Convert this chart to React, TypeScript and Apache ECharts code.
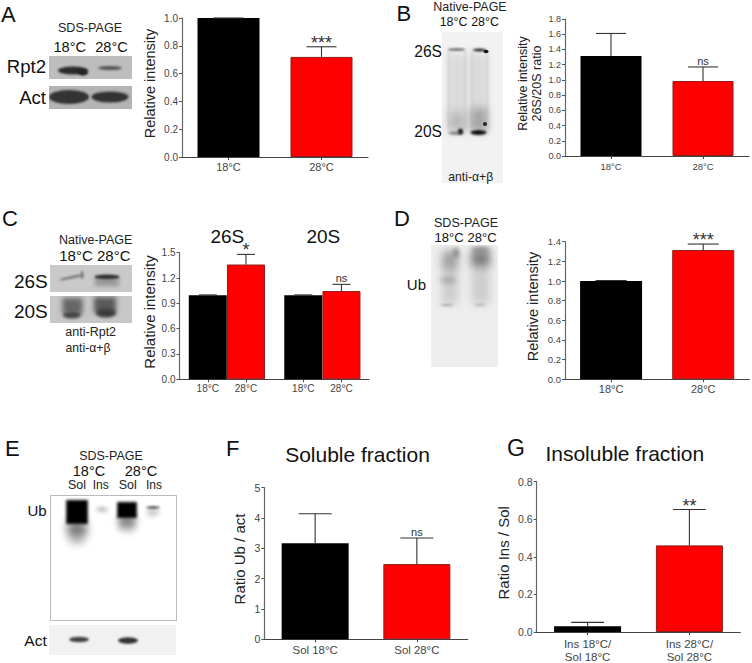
import React, { useEffect, useRef } from "react";
import * as echarts from "echarts";

const FONT = "'Liberation Sans', Arial, sans-serif";

const tempLabels = ["18°C", "28°C"];
const aValues = [1.0, 0.72];
const aHighs = [1.0, 0.793];
const aMarks = ["", "***"];
const bValues = [1.314, 0.985];
const bHighs = [1.61, 1.17];
const bMarks = ["", "ns"];
const cLabels = ["18°C", "28°C", "18°C", "28°C"];
const cValues = [0.995, 1.36, 0.995, 1.046];
const cHighs = [1.0, 1.48, 1.0, 1.125];
const cMarks = ["", "*", "", "ns"];
const dValues = [1.0, 1.315];
const dHighs = [1.005, 1.376];
const dMarks = ["", "***"];
const fLabels = ["Sol 18°C", "Sol 28°C"];
const fValues = [3.165, 2.48];
const fHighs = [4.14, 3.34];
const fMarks = ["", "ns"];
const gLabels = ["Ins 18°C/\nSol 18°C", "Ins 28°C/\nSol 28°C"];
const gValues = [0.031, 0.461];
const gHighs = [0.051, 0.652];
const gMarks = ["", "**"];
const cSlots = [0.74, 1.74, 3.24, 4.24];

type Panel = {
  left: number; right: number; top: number; bottom: number;
  labels: string[]; values: number[]; highs: number[]; marks: string[];
  max: number; step: number; digits: number;
  name: string; nameSize: number; nameGap: number; namePad: number;
  tick: number; xSize: number; xMargin: number; barWidth: number; cap: number; slots?: number[];
};

const panels: Panel[] = [
  { left: 182, right: 368, top: 18, bottom: 157, labels: tempLabels, values: aValues, highs: aHighs, marks: aMarks, max: 1, step: 0.2, digits: 1,
    name: "Relative intensity", nameSize: 14.5, nameGap: 24, namePad: 8, tick: 10, xSize: 11, xMargin: 3.5, barWidth: 62, cap: 15 },
  { left: 565, right: 749, top: 19, bottom: 156, labels: tempLabels, values: bValues, highs: bHighs, marks: bMarks, max: 1.8, step: 0.2, digits: 1,
    name: "Relative intensity\n26S/20S ratio", nameSize: 12.5, nameGap: 18, namePad: 8, tick: 9, xSize: 9.5, xMargin: 4, barWidth: 61, cap: 15 },
  { left: 179.5, right: 369, top: 252.7, bottom: 379.3, labels: cLabels, values: cValues, highs: cHighs, marks: cMarks, max: 1.5, step: 0.3, digits: 1,
    name: "Relative intensity", nameSize: 15, nameGap: 21.5, namePad: 8, tick: 10, xSize: 10, xMargin: 4, barWidth: 38, cap: 9, slots: cSlots },
  { left: 565, right: 749.3, top: 241.7, bottom: 379.3, labels: tempLabels, values: dValues, highs: dHighs, marks: dMarks, max: 1.4, step: 0.2, digits: 1,
    name: "Relative intensity", nameSize: 14.5, nameGap: 24, namePad: 8, tick: 9.5, xSize: 11, xMargin: 3.5, barWidth: 62, cap: 15.5 },
  { left: 264.3, right: 467.7, top: 487.7, bottom: 639.3, labels: fLabels, values: fValues, highs: fHighs, marks: fMarks, max: 5, step: 1, digits: 0,
    name: "Ratio Ub / act", nameSize: 15, nameGap: 16.5, namePad: 9, tick: 10.5, xSize: 11.4, xMargin: 4, barWidth: 67, cap: 16.5 },
  { left: 536.7, right: 740.3, top: 481.7, bottom: 634.3, labels: gLabels, values: gValues, highs: gHighs, marks: gMarks, max: 0.8, step: 0.2, digits: 1,
    name: "Ratio Ins / Sol", nameSize: 15, nameGap: 25, namePad: 8, tick: 10.5, xSize: 11.5, xMargin: 5, barWidth: 67, cap: 16.5 },
];

type Blob = [number, number, number, number, string, number, number?, boolean?];
function blot(x: number, y: number, w: number, h: number, bg: string, blobs: Blob[], border?: string) {
  const c = document.createElement("canvas");
  c.width = w; c.height = h;
  const ctx = c.getContext("2d")!;
  ctx.fillStyle = bg;
  ctx.fillRect(0, 0, w, h);
  blobs.forEach(([cx, cy, rx, ry, col, blur, rot, box]) => {
    ctx.filter = `blur(${blur}px)`;
    ctx.fillStyle = col;
    if (box) {
      ctx.fillRect(cx - x - rx, cy - y - ry, rx * 2, ry * 2);
    } else {
      ctx.beginPath();
      ctx.ellipse(cx - x, cy - y, rx, ry, rot || 0, 0, Math.PI * 2);
      ctx.fill();
    }
  });
  ctx.filter = "none";
  if (border) {
    ctx.strokeStyle = border;
    ctx.strokeRect(0.5, 0.5, w - 1, h - 1);
  }
  return { type: "image", x, y, style: { image: c.toDataURL(), x: 0, y: 0, width: w, height: h }, silent: true };
}

function blots() {
  return [
    blot(49, 56, 83, 23, "#bdbdbd", [[73, 70.5, 15, 4, "#2b2b2b", 1.2], [83, 72.5, 5, 3, "#222", 1], [110, 68, 12, 2, "#555", 1]]),
    blot(49, 86, 83, 23, "#b4b4b4", [[69, 97, 20, 7, "#333", 0.8], [110, 97, 18.5, 5.5, "#333", 0.8]]),
    blot(442, 32, 61, 151, "#f2f2f2", [
      [457, 92, 8, 38, "rgba(150,150,150,.28)", 4, 0, true], [479, 92, 8, 38, "rgba(150,150,150,.28)", 4, 0, true],
      [457, 122, 8, 10, "rgba(110,110,110,.3)", 4, 0, true], [479, 120, 8, 12, "rgba(80,80,80,.4)", 4, 0, true],
      [449, 90, 0.7, 40, "rgba(110,110,110,.3)", 1.5, 0, true], [465, 90, 0.7, 40, "rgba(110,110,110,.3)", 1.5, 0, true], [472, 90, 0.7, 40, "rgba(110,110,110,.3)", 1.5, 0, true], [487, 90, 0.7, 40, "rgba(110,110,110,.3)", 1.5, 0, true],
      [456.5, 49.5, 8.5, 1.1, "#444", 0.8], [479.5, 50, 6.5, 1.4, "#222", 0.8], [486, 51.5, 2.5, 1.8, "#111", 0.7],
      [456, 133, 7.5, 1.8, "#888", 1.2], [460.5, 131.5, 2.5, 3, "#222", 1], [478.5, 132.5, 8, 2.6, "#111", 0.9], [485, 124, 2, 2, "#222", 0.7],
    ]),
    blot(50, 265, 82, 27, "#c9c9c9", [[71, 277.5, 12, 1.4, "#777", 1, -0.2], [82, 275, 1.5, 4, "#777", 1], [107, 277, 12.5, 2.4, "#2a2a2a", 1], [107, 282, 12, 4, "rgba(90,90,90,.45)", 2, 0, true]]),
    blot(50, 296, 82, 27, "#c7c7c7", [[72.5, 306, 10, 8, "#666", 2.5, 0, true], [105, 305, 11, 8, "#5a5a5a", 2.5, 0, true], [72, 315, 9, 3.5, "#444", 1.5], [106, 313, 10, 4.5, "#3c3c3c", 1.5]]),
    blot(431, 245, 67, 122, "#eeeeee", [
      [450, 278, 8, 26, "rgba(130,130,130,.3)", 4, 0, true], [450, 260, 7, 9, "rgba(90,90,90,.4)", 4, 0, true], [456, 253, 3, 5, "#888", 2], [448, 280, 8, 3.5, "rgba(100,100,100,.35)", 2.5], [447, 305, 7, 1.2, "rgba(110,110,110,.45)", 1.2],
      [480.5, 278, 9, 26, "rgba(130,130,130,.3)", 4, 0, true], [480.5, 258, 9, 8, "rgba(70,70,70,.6)", 4, 0, true], [480.5, 250, 9, 2.5, "#888", 2], [480, 305, 6, 1.2, "rgba(120,120,120,.4)", 1.2],
    ]),
    blot(50, 495, 127, 126, "#ffffff", [
      [77, 512, 10.8, 12, "#000", 1.6, 0, true], [77, 529, 9.5, 7, "rgba(0,0,0,.55)", 4, 0, true], [77, 540, 7.5, 5, "rgba(0,0,0,.2)", 3.5, 0, true],
      [102, 509.5, 6, 2.2, "rgba(0,0,0,.3)", 2], [127, 510, 9.8, 8, "#000", 1.6, 0, true], [127, 521, 8.5, 5, "rgba(0,0,0,.5)", 3.5, 0, true], [127, 528, 7.5, 4, "rgba(0,0,0,.2)", 3, 0, true],
      [153, 507.5, 7, 1.5, "rgba(0,0,0,.6)", 1.2], [153, 512.5, 6.5, 4, "rgba(0,0,0,.2)", 2.5],
    ], "#bbbbbb"),
    blot(49, 625, 127, 30, "#f1f1f1", [[79, 639.5, 10, 2.8, "#444", 0.9], [128, 640.5, 10, 3.2, "#333", 0.9]]),
  ];
}

type T = [string, number, number, number, string?, string?];
const texts: T[] = [
  ["A", 1, 14, 22], ["B", 396.5, 13, 22], ["C", 2, 218, 22], ["D", 394, 218, 22], ["E", 5, 448, 22], ["F", 226, 448, 22], ["G", 507, 448, 23],
  ["SDS-PAGE", 90, 27.7, 12.6, "center", "#222"], ["18°C", 69.7, 47, 14.6, "center"], ["28°C", 111.5, 47, 14.6, "center"],
  ["Rpt2", 46, 66.7, 18.6, "right"], ["Act", 46, 97, 18.6, "right"],
  ["Native-PAGE", 470, 6.7, 12.5, "center", "#222"], ["18°C", 453.5, 22, 12.4, "center"], ["28°C", 485, 22, 12.4, "center"],
  ["26S", 442, 51.7, 15.6, "right"], ["20S", 442, 131.7, 15.6, "right"], ["anti-α+β", 470.7, 176.7, 12.2, "center", "#222"],
  ["Native-PAGE", 95.7, 240, 12.5, "center", "#222"], ["18°C", 76, 255.7, 15, "center"], ["28°C", 113.7, 255.7, 15, "center"],
  ["26S", 47.7, 281.7, 19, "right"], ["20S", 47.7, 311, 19, "right"], ["anti-Rpt2", 90.7, 332, 12.5, "center", "#222"], ["anti-α+β", 88, 347.7, 12.2, "center", "#222"],
  ["26S", 227.3, 236, 19, "center"], ["20S", 323.3, 236, 19, "center"],
  ["SDS-PAGE", 466, 223, 12.6, "center", "#222"], ["18°C", 449, 237.3, 13, "center"], ["28°C", 482, 237.3, 13, "center"], ["Ub", 426, 284.3, 15, "right"],
  ["SDS-PAGE", 111, 456, 12.5, "center", "#222"], ["18°C", 89, 470.5, 14.5, "center"], ["28°C", 141, 470.5, 14.5, "center"],
  ["Sol", 77, 484.5, 12.5, "center", "#222"], ["Ins", 100.7, 484.5, 12, "center", "#222"], ["Sol", 127.7, 484.5, 12.5, "center", "#222"], ["Ins", 154, 484.5, 12, "center", "#222"],
  ["Ub", 46.7, 510.7, 15, "right"], ["Act", 46.7, 640, 15.5, "right"],
  ["Soluble fraction", 357.5, 454, 21, "center"], ["Insoluble fraction", 624.8, 453, 21, "center"],
];

function buildOption() {
  const grid: any[] = [], xAxis: any[] = [], yAxis: any[] = [], series: any[] = [];
  panels.forEach((p, i) => {
    grid.push({ left: p.left, top: p.top, width: p.right - p.left, height: p.bottom - p.top, containLabel: false });
    const xLine = { show: true, onZero: false, lineStyle: { color: "#444", width: 1.2 } };
    const slots = p.slots;
    if (slots) {
      xAxis.push({
        gridIndex: i, type: "value", min: 0, max: (p.right - p.left) / 38.2, splitLine: { show: false },
        axisLine: xLine,
        axisTick: { show: true, length: 3, customValues: slots, lineStyle: { color: "#444" } },
        axisLabel: { show: true, customValues: slots, margin: p.xMargin, fontSize: p.xSize, fontFamily: FONT, color: "#444", showMinLabel: true, showMaxLabel: true,
          formatter: (v: number) => p.labels[slots.indexOf(v)] ?? "" },
      });
    } else {
      xAxis.push({
        gridIndex: i, type: "category", data: p.labels,
        axisLine: xLine,
        axisTick: { show: true, alignWithLabel: true, length: 3, lineStyle: { color: "#444" } },
        axisLabel: { interval: 0, margin: p.xMargin, fontSize: p.xSize, fontFamily: FONT, color: "#444", lineHeight: 13 },
      });
    }
    yAxis.push({
      gridIndex: i, type: "value", min: 0, max: p.max, interval: p.step,
      name: p.name, nameLocation: "middle", nameGap: p.nameGap, nameRotate: 90,
      nameTextStyle: { fontSize: p.nameSize, fontFamily: FONT, color: "#222", padding: [0, 0, 0, p.namePad], lineHeight: p.nameSize + 2 },
      splitLine: { show: false },
      axisLine: { show: true, lineStyle: { color: "#666", width: 1.2 } },
      axisTick: { show: true, length: 3, lineStyle: { color: "#555" } },
      axisLabel: { margin: 4, fontSize: p.tick, fontFamily: FONT, color: "#444", formatter: (v: number) => v.toFixed(p.digits) },
    });
    const xOf = (k: number) => (slots ? slots[k] : k);
    series.push({
      type: "bar", xAxisIndex: i, yAxisIndex: i, barWidth: p.barWidth, silent: true,
      data: p.values.map((v, k) => ({
        value: [xOf(k), v],
        itemStyle: k % 2 === 0
          ? { color: "#000", borderColor: "#000", borderWidth: 0 }
          : { color: "#fe0000", borderColor: "#8f1b1b", borderWidth: 1 },
      })),
    });
    series.push({
      type: "custom", xAxisIndex: i, yAxisIndex: i, silent: true, clip: false, z: 5,
      data: p.values.map((v, k) => [xOf(k), v, p.highs[k]]),
      renderItem: (params: any, api: any) => {
        const a = api.coord([api.value(0), api.value(1)]);
        const b = api.coord([api.value(0), api.value(2)]);
        const stroke = { stroke: "#333", lineWidth: 1.1, fill: "none" };
        const mark = p.marks[params.dataIndex];
        const isStar = mark.includes("*");
        const children: any[] = [
          { type: "line", shape: { x1: a[0], y1: a[1], x2: b[0], y2: b[1] }, style: stroke },
          { type: "line", shape: { x1: b[0] - p.cap, y1: b[1], x2: b[0] + p.cap, y2: b[1] }, style: stroke },
        ];
        if (mark) {
          children.push({
            type: "text",
            style: {
              text: mark, x: b[0], y: isStar ? b[1] + 5 : b[1] - 0.5,
              align: "center", verticalAlign: "bottom", textAlign: "center", textVerticalAlign: "bottom",
              fontSize: isStar ? 18 : 11, fontFamily: FONT, fill: "#333",
            },
          });
        }
        return { type: "group", children };
      },
    });
  });

  const graphic = [
    ...blots(),
    ...texts.map(([text, x, y, size, al, col]) => ({
      type: "text", x, y, silent: true,
      style: { text, fontSize: size, fontFamily: FONT, fill: col || "#111", align: al || "left", verticalAlign: "middle", textAlign: al || "left", textVerticalAlign: "middle" },
    })),
  ];
  return { animation: false, backgroundColor: "#fff", grid, xAxis, yAxis, series, graphic };
}

export default function App() {
  const ref = useRef<HTMLDivElement>(null);
  useEffect(() => {
    const chart = echarts.init(ref.current!, undefined, { renderer: "svg" });
    chart.setOption(buildOption() as any);
    return () => chart.dispose();
  }, []);
  return <div ref={ref} style={{ position: "absolute", left: 0, top: 0, width: 752, height: 663 }} />;
}
